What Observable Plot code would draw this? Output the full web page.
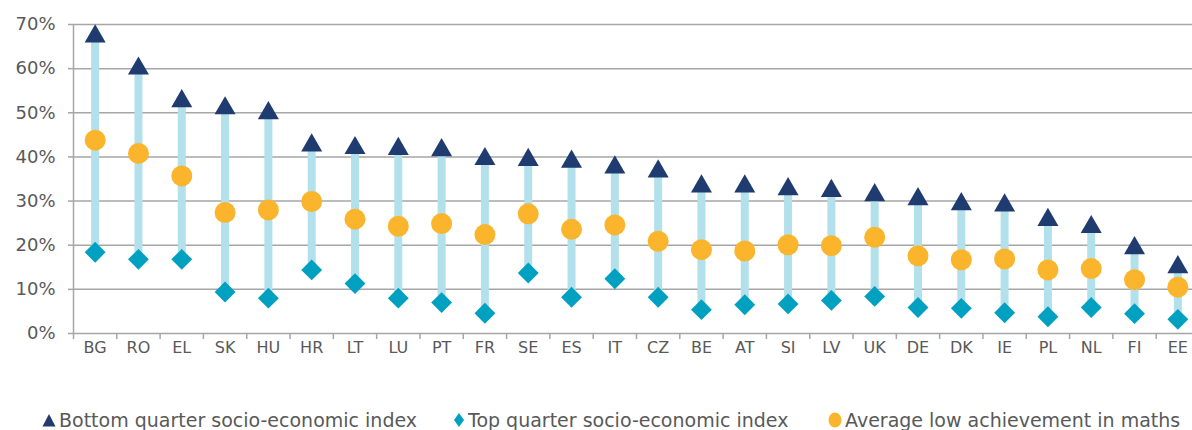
<!DOCTYPE html>
<html>
<head>
<meta charset="utf-8">
<script src="https://cdn.jsdelivr.net/npm/d3@7"></script>
<script src="https://cdn.jsdelivr.net/npm/@observablehq/plot@0.6"></script>
<style>
  body { margin: 0; background: #fff; width: 1192px; height: 430px; position: relative; overflow: hidden; }
  #chart { position: absolute; left: 0; top: 0; }
  .leg { position: absolute; top: 408px; font-family: "DejaVu Sans", Verdana, sans-serif; font-size: 19px; color: #595959; display: flex; align-items: center; white-space: nowrap; line-height: 24px; }
  .leg svg { margin-right: 3px; }
</style>
</head>
<body>
<div id="chart"></div>
<div class="leg" style="left:42px"><svg width="14" height="14"><path d="M7,1 L13.5,13.5 L0.5,13.5 Z" fill="#1f3b70"/></svg>Bottom quarter socio-economic index</div>
<div class="leg" style="left:453px"><svg width="12" height="16"><path d="M6,1 L11,8 L6,15 L1,8 Z" fill="#00a0c0"/></svg>Top quarter socio-economic index</div>
<div class="leg" style="left:828px"><svg width="14" height="16"><ellipse cx="7" cy="8" rx="6.5" ry="7.5" fill="#fbb52c"/></svg>Average low achievement in maths</div>
<script>
const countries = ["BG","RO","EL","SK","HU","HR","LT","LU","PT","FR","SE","ES","IT","CZ","BE","AT","SI","LV","UK","DE","DK","IE","PL","NL","FI","EE"];
const bottomQuarter = [68.0,60.7,53.3,51.7,50.6,43.3,42.7,42.5,42.2,40.2,40.0,39.6,38.3,37.4,34.0,34.0,33.4,33.0,32.0,31.1,30.0,29.7,26.4,24.8,20.0,15.7];
const topQuarter = [18.4,16.8,16.8,9.4,8.0,14.4,11.3,8.0,7.0,4.6,13.7,8.2,12.4,8.2,5.4,6.5,6.7,7.5,8.4,5.9,5.7,4.7,3.8,5.9,4.5,3.2];
const avgLow = [43.8,40.8,35.7,27.4,28.0,29.9,25.9,24.3,24.9,22.4,27.1,23.6,24.6,20.9,19.0,18.7,20.1,19.9,21.8,17.6,16.7,16.9,14.4,14.7,12.2,10.5];
const yTicks = [0,10,20,30,40,50,60,70];

const data = countries.map((c, i) => ({country: c, bottom: bottomQuarter[i], top: topQuarter[i], avg: avgLow[i]}));

const xRange = [73, 1199];
const bw = (xRange[1] - xRange[0]) / countries.length;
const grid = "#a6a6a6";

const chart = Plot.plot({
  width: 1192,
  height: 378,
  marginLeft: 73,
  marginRight: 0,
  marginTop: 24,
  marginBottom: 45,
  style: {fontFamily: "DejaVu Sans, Verdana, sans-serif", fontSize: "16px", color: "#595959", background: "white", overflow: "visible"},
  x: {type: "band", domain: countries, range: xRange, padding: 0, round: false, label: null},
  y: {domain: [0, 70], ticks: yTicks, label: null},
  marks: [
    Plot.ruleY(yTicks, {stroke: grid, strokeWidth: 1.5}),
    Plot.ruleX([countries[0]], {dx: -bw / 2, y1: 0, y2: 70, stroke: grid, strokeWidth: 1.5}),
    Plot.ruleX(countries, {x: d => d, y1: 0, y2: 0, insetTop: 6, dx: -bw / 2, stroke: grid, strokeWidth: 1.5}),
    Plot.axisY({ticks: yTicks, tickSize: 5, tickPadding: 13, tickFormat: d => d + "%", stroke: grid, strokeWidth: 1.5, fontSize: 18, label: null}),
    Plot.axisX({tickSize: 0, tickPadding: 8, fontSize: 16, label: null}),
    Plot.ruleX(data, {x: "country", y1: "top", y2: "bottom", stroke: "#b2e0eb", strokeWidth: 8}),
    Plot.dot(data, {x: "country", y: "bottom", symbol: "triangle", r: 7.8, fill: "#1f3b70", dy: 3}),
    Plot.dot(data, {x: "country", y: "top", symbol: "diamond2", r: 9.4, fill: "#00a0c0"}),
    Plot.dot(data, {x: "country", y: "avg", r: 10.5, fill: "#fbb52c"})
  ]
});
document.getElementById("chart").appendChild(chart);
</script>
</body>
</html>
